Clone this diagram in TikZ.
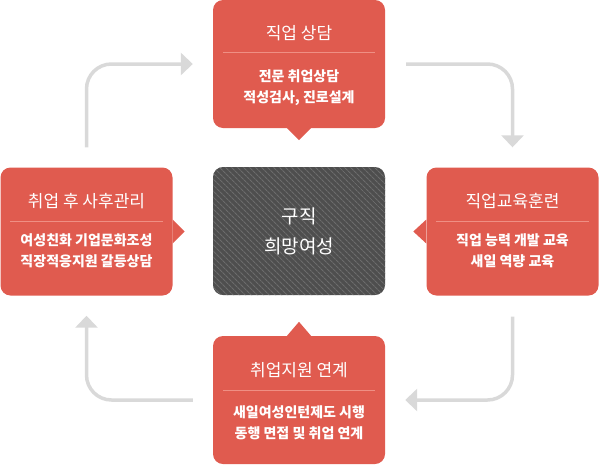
\documentclass[tikz,border=0pt]{standalone}
\usepackage{fontspec}
\setmainfont{Noto Sans CJK KR}
\usepackage{tikz}
\usetikzlibrary{
    positioning,
    arrows.meta,
    patterns.meta
}
\definecolor{boxred}{HTML}{E05B4F}
\definecolor{rulered}{HTML}{EF8F84}
\definecolor{flowgray}{HTML}{D9D9D9}
\definecolor{goalgray}{HTML}{4E4E4E}
\definecolor{hatchgray}{HTML}{6C6C6C}
\tikzset{
    % Red step card:
    stepbox/.style = {
        rectangle,
        rounded corners = 10pt,
        fill = boxred,
        minimum width = 172pt,
        minimum height = 128pt,
        inner sep = 0pt
    },
    % Pointer of a card:
    pointer/.style = {
        fill = boxred
    },
    % Hatched centre card:
    goal node/.style = {
        stepbox,
        fill = goalgray,
        postaction = {
            pattern = {Lines[angle=-45, distance=4pt, line width=1.2pt]},
            pattern color = hatchgray
        },
        text = white,
        align = center,
        font = \fontsize{19}{30}\selectfont
    },
    step title/.style = {
        text = white,
        font = \fontsize{17}{17}\selectfont
    },
    step items/.style = {
        text = white,
        align = center,
        font = \bfseries\fontsize{14}{21}\selectfont
    },
    divider/.style = {
        draw = rulered,
        line width = 0.8pt
    },
    % Grey cycle arrow:
    flow/.style = {
        draw = flowgray,
        line width = 3.5pt,
        rounded corners = 25pt,
        -{Triangle[length=12pt, width=22pt]}
    }
}

\begin{document}
\begin{tikzpicture}[x=1pt, y=-1pt]
    \useasboundingbox (0, 0) rectangle (599, 464);
    % cards
    \node [stepbox] (counsel) at (299, 64) {};
    \node [stepbox] (training) at (512.5, 231.5) {};
    \node [stepbox] (placement) at (299, 400) {};
    \node [stepbox] (aftercare) at (86.5, 231.5) {};
    \node [goal node] (goal) at (299, 231) {구직\\희망여성};
    % pointers towards the centre
    \fill [pointer] ([xshift=-12pt]counsel.south) -- ([yshift=-12pt]counsel.south) -- ([xshift=12pt]counsel.south) -- cycle;
    \fill [pointer] ([yshift=12pt]training.west) -- ([xshift=-13pt]training.west) -- ([yshift=-12pt]training.west) -- cycle;
    \fill [pointer] ([xshift=-12pt]placement.north) -- ([yshift=14pt]placement.north) -- ([xshift=12pt]placement.north) -- cycle;
    \fill [pointer] ([yshift=12pt]aftercare.east) -- ([xshift=12pt]aftercare.east) -- ([yshift=-12pt]aftercare.east) -- cycle;
    % card texts
    \node [step title] (counsel-title) at ([yshift=-33pt]counsel.north) {직업 상담};
    \draw [divider] ([xshift=10pt, yshift=-53pt]counsel.north west) -- ([xshift=-10pt, yshift=-53pt]counsel.north east);
    \node [step items] (counsel-items) at ([yshift=-88pt]counsel.north) {전문 취업상담\\적성검사, 진로설계};
    \node [step title] (training-title) at ([yshift=-34pt]training.north) {직업교육훈련};
    \draw [divider] ([xshift=10pt, yshift=-54pt]training.north west) -- ([xshift=-10pt, yshift=-54pt]training.north east);
    \node [step items] (training-items) at ([yshift=-83pt]training.north) {직업 능력 개발 교육\\새일 역량 교육};
    \node [step title] (placement-title) at ([yshift=-34pt]placement.north) {취업지원 연계};
    \draw [divider] ([xshift=10pt, yshift=-55pt]placement.north west) -- ([xshift=-10pt, yshift=-55pt]placement.north east);
    \node [step items] (placement-items) at ([yshift=-87pt]placement.north) {새일여성인턴제도 시행\\동행 면접 및 취업 연계};
    \node [step title] (aftercare-title) at ([yshift=-34pt]aftercare.north) {취업 후 사후관리};
    \draw [divider] ([xshift=10pt, yshift=-54pt]aftercare.north west) -- ([xshift=-10pt, yshift=-54pt]aftercare.north east);
    \node [step items] (aftercare-items) at ([yshift=-83pt]aftercare.north) {여성친화 기업문화조성\\직장적응지원 갈등상담};
    % cycle arrows
    \draw [flow] ([yshift=20pt]aftercare.north) |- ([xshift=-20pt]counsel.west);
    \draw [flow] ([xshift=21pt]counsel.east) -| ([yshift=20pt]training.north);
    \draw [flow] ([yshift=-21pt]training.south) |- ([xshift=20pt]placement.east);
    \draw [flow] ([xshift=-20pt]placement.west) -| ([yshift=-20pt]aftercare.south);
\end{tikzpicture}
\end{document}
